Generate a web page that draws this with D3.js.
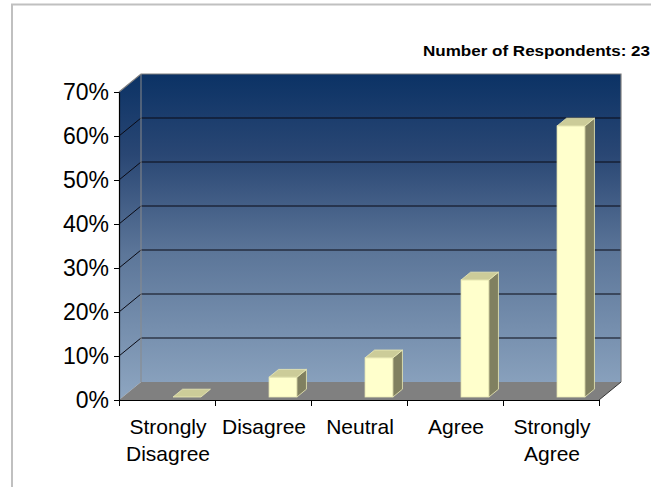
<!DOCTYPE html>
<html>
<head>
<meta charset="utf-8">
<script src="https://cdn.jsdelivr.net/npm/d3@7"></script>
<style>
  html, body { margin: 0; padding: 0; background: #ffffff; }
  svg { display: block; }
</style>
</head>
<body>
<svg id="chart" width="651" height="487"></svg>
<script>
// Survey response distribution (share of respondents per answer)
const categories = ["Strongly Disagree", "Disagree", "Neutral", "Agree", "Strongly Agree"];
const categoryLines = [["Strongly", "Disagree"], ["Disagree"], ["Neutral"], ["Agree"], ["Strongly", "Agree"]];
const values = [0, 4.5, 8.9, 26.6, 61.6];
const yTicks = [0, 10, 20, 30, 40, 50, 60, 70];
const titleText = "Number of Respondents: 23";

const svg = d3.select("#chart");
const W = 651, H = 487;

// front plane of the 3-D plot box
const plotLeft = 119, plotRight = 599, plotBottom = 400, plotTop = 92;
// oblique depth of the box
const DX = 22, DY = 18;

const x = d3.scaleBand().domain(categories).range([plotLeft, plotRight]);
const y = d3.scaleLinear().domain([0, 70]).range([plotBottom, plotTop]);
const xEdges = d3.scaleLinear().domain([0, categories.length]).range([plotLeft, plotRight]);

// outer frame
svg.append("path")
  .attr("d", `M12,${H} L12,4.5 L${W},4.5`)
  .attr("fill", "none")
  .attr("stroke", "#c0c0c0")
  .attr("stroke-width", 2);

const defs = svg.append("defs");
const grad = defs.append("linearGradient")
  .attr("id", "wallGrad")
  .attr("gradientUnits", "userSpaceOnUse")
  .attr("x1", 0).attr("y1", plotTop - DY)
  .attr("x2", 0).attr("y2", plotBottom);
[[0, "#0b3265"], [0.25, "#2a4774"], [0.55, "#5c7699"], [1, "#8ea6c1"]]
  .forEach(([o, c]) => grad.append("stop").attr("offset", o).attr("stop-color", c));

// back wall
svg.append("rect")
  .attr("x", plotLeft + DX).attr("y", y(70) - DY)
  .attr("width", plotRight - plotLeft).attr("height", y(0) - y(70))
  .attr("fill", "url(#wallGrad)");

// side wall
svg.append("polygon")
  .attr("points", [[plotLeft, y(70)], [plotLeft + DX, y(70) - DY], [plotLeft + DX, y(0) - DY], [plotLeft, y(0)]].join(" "))
  .attr("fill", "url(#wallGrad)");

// floor
svg.append("polygon")
  .attr("points", [[plotLeft, y(0)], [plotRight, y(0)], [plotRight + DX, y(0) - DY], [plotLeft + DX, y(0) - DY]].join(" "))
  .attr("fill", "#808080");

// gridlines on back and side walls
const inner = yTicks.filter(t => t > 0 && t < 70);
svg.append("g").selectAll("line").data(inner).join("line")
  .attr("x1", plotLeft + DX).attr("x2", plotRight + DX)
  .attr("y1", d => y(d) - DY).attr("y2", d => y(d) - DY)
  .attr("stroke", "#0a0a14").attr("stroke-width", 1);
svg.append("g").selectAll("line").data(inner).join("line")
  .attr("x1", plotLeft).attr("x2", plotLeft + DX)
  .attr("y1", d => y(d)).attr("y2", d => y(d) - DY)
  .attr("stroke", "#0a0a14").attr("stroke-width", 1);

// wall outlines
svg.append("path")
  .attr("d", `M${plotLeft},${y(70)} L${plotLeft + DX},${y(70) - DY} L${plotRight + DX},${y(70) - DY} L${plotRight + DX},${y(0) - DY}`)
  .attr("fill", "none").attr("stroke", "#7f7f7f").attr("stroke-width", 1.2);
svg.append("line")
  .attr("x1", plotLeft + DX).attr("x2", plotLeft + DX)
  .attr("y1", y(70) - DY).attr("y2", y(0) - DY)
  .attr("stroke", "#8a8a8a").attr("stroke-width", 1);
svg.append("line")
  .attr("x1", plotRight).attr("x2", plotRight + DX)
  .attr("y1", y(0)).attr("y2", y(0) - DY)
  .attr("stroke", "#333").attr("stroke-width", 1);

// bars: placed slightly inside the depth of the box
const depthFront = 3 / 18, depthBar = 7.8 / 18;
const barW = x.bandwidth() * 0.29;
const barOff = x.bandwidth() * 0.525;
const fdx = depthFront * DX, fdy = depthFront * DY;
const bdx = depthBar * DX, bdy = depthBar * DY;

const bars = svg.append("g").selectAll("g").data(categories.map((c, i) => ({ c, v: values[i] }))).join("g");
bars.each(function (d) {
  const g = d3.select(this);
  const x0 = x(d.c) + barOff + fdx;
  const x1 = x0 + barW;
  const yb = y(0) - fdy;
  const yt = y(d.v) - fdy;
  const stroke = "#ecebb6";
  if (d.v > 0) {
    g.append("rect")
      .attr("x", x0).attr("y", yt).attr("width", barW).attr("height", yb - yt)
      .attr("fill", "#ffffcc").attr("stroke", stroke).attr("stroke-width", 0.8);
    g.append("polygon")
      .attr("points", [[x1, yt], [x1 + bdx, yt - bdy], [x1 + bdx, yb - bdy], [x1, yb]].join(" "))
      .attr("fill", "#808060").attr("stroke", stroke).attr("stroke-width", 0.8);
  }
  g.append("polygon")
    .attr("points", [[x0, yt], [x1, yt], [x1 + bdx, yt - bdy], [x0 + bdx, yt - bdy]].join(" "))
    .attr("fill", "#cccc99").attr("stroke", stroke).attr("stroke-width", 0.8);
});

// value axis
const yAxis = svg.append("g")
  .attr("transform", `translate(${plotLeft},0)`)
  .call(d3.axisLeft(y).tickValues(yTicks).tickSize(5).tickSizeOuter(0).tickPadding(5).tickFormat(d => d + "%"));
yAxis.select(".domain").attr("stroke", "#000").attr("stroke-width", 1.2);
yAxis.selectAll(".tick line").attr("stroke", "#000");
yAxis.selectAll(".tick text")
  .attr("font-family", "'Liberation Sans', Arial, sans-serif")
  .attr("font-size", 23).attr("fill", "#000");

// category axis (ticks between categories)
const xAxis = svg.append("g")
  .attr("transform", `translate(0,${plotBottom})`)
  .call(d3.axisBottom(xEdges).tickValues(d3.range(categories.length + 1)).tickSize(6).tickSizeOuter(0).tickFormat(""));
xAxis.select(".domain").attr("stroke", "#000").attr("stroke-width", 1.2);
xAxis.selectAll(".tick line").attr("stroke", "#000");

// category labels
const labels = svg.append("g").selectAll("text").data(categories).join("text")
  .attr("x", d => x(d) + x.bandwidth() / 2 + 1)
  .attr("y", 434)
  .attr("text-anchor", "middle")
  .attr("font-family", "'Liberation Sans', Arial, sans-serif")
  .attr("font-size", 21)
  .attr("fill", "#000");
labels.each(function (d, i) {
  d3.select(this).selectAll("tspan").data(categoryLines[i]).join("tspan")
    .attr("x", x(d) + x.bandwidth() / 2 + 1)
    .attr("dy", (t, j) => j === 0 ? 0 : 27)
    .text(t => t);
});

// title, stretched to run up to the right edge
svg.append("text")
  .attr("x", 423).attr("y", 56)
  .attr("font-family", "'Liberation Sans', Arial, sans-serif")
  .attr("font-weight", "bold")
  .attr("font-size", 15)
  .attr("textLength", 227)
  .attr("lengthAdjust", "spacingAndGlyphs")
  .attr("fill", "#000")
  .text(titleText);
</script>
</body>
</html>
